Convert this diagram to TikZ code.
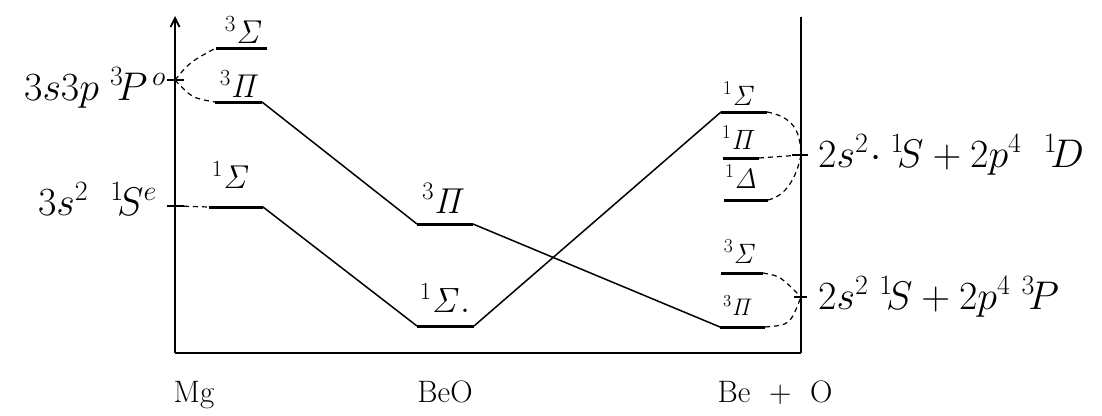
\RequirePackage{fix-cm}
\documentclass[tikz,border=0pt]{standalone}
\usetikzlibrary{arrows.meta}
\begin{document}
\begin{tikzpicture}[x=1pt,y=-1pt,
  axis/.style={line width=1.8pt},
  level/.style={line width=3pt},
  conn/.style={line width=1.5pt},
  dsh/.style={line width=1.2pt,dash pattern=on 5pt off 4pt},
  big/.style={font=\fontsize{40}{44}\selectfont,inner sep=0pt},
  lvlA/.style={font=\fontsize{33}{36}\selectfont,inner sep=0pt,anchor=base},
  lvlB/.style={font=\fontsize{28}{30}\selectfont,inner sep=0pt,anchor=base},
  bot/.style={font=\fontsize{31}{34}\selectfont,inner sep=0pt,anchor=base}]
\useasboundingbox (0,0) rectangle (1102,415);
% axes
\coordinate (ax0) at (175,353);
\coordinate (axtop) at (175,16);
\coordinate (bx1) at (801,353);
\coordinate (bxtop) at (801,17);
\draw[axis,-{Straight Barb[length=9pt,width=9pt]}] (ax0) -- (axtop);
\draw[axis] (ax0) -- (bx1);
\draw[axis] (bx1) -- (bxtop);
% ticks
\coordinate (tP) at (175,80);
\coordinate (tS) at (175,206);
\coordinate (tD) at (801,155);
\coordinate (tT) at (801,297);
\draw[axis] (167,80) -- (184,80);
\draw[axis] (167,206) -- (184,206);
\draw[axis] (792,155) -- (808,155);
\draw[axis] (794,297) -- (807,297);
% side labels
\node[big,anchor=base east] (lP) at (166,100) {$3s3p\;{}^{3}\!P^{\,o}$};
\node[big,anchor=base east] (lS) at (157,215) {$3s^{2}\;\;{}^{1}\!S^{e}$};
\node[big,anchor=base west] (lD) at (818,167) {$2s^{2}\!\cdot{}^{1}\!S+2p^{4}\;\;{}^{1}\!D$};
\node[big,anchor=base west] (lT) at (818,309) {$2s^{2}\;{}^{1}\!S+2p^{4}\;{}^{3}\!P$};
% levels: Mg
\coordinate (mgSa) at (216,48);  \coordinate (mgSb) at (267,48);
\coordinate (mgPa) at (215,102); \coordinate (mgPb) at (262,102);
\coordinate (mg1a) at (209,207); \coordinate (mg1b) at (263,207);
% BeO
\coordinate (boPa) at (417,224); \coordinate (boPb) at (473,224);
\coordinate (bo1a) at (417,326); \coordinate (bo1b) at (474,326);
% Be+O
\coordinate (b1Sa) at (721,112); \coordinate (b1Sb) at (767,112);
\coordinate (b1Pa) at (723,158); \coordinate (b1Pb) at (759,158);
\coordinate (b1Da) at (724,200); \coordinate (b1Db) at (768,200);
\coordinate (b3Sa) at (721,273); \coordinate (b3Sb) at (763,273);
\coordinate (b3Pa) at (720,327); \coordinate (b3Pb) at (765,327);
\foreach \a/\b in {mgSa/mgSb,mgPa/mgPb,mg1a/mg1b,boPa/boPb,bo1a/bo1b,b1Sa/b1Sb,b1Pa/b1Pb,b1Da/b1Db,b3Sa/b3Sb,b3Pa/b3Pb}
  \draw[level] (\a) -- (\b);
% level labels
\node[lvlA] (nmgS) at (244,43) {${}^{3}\mathit{\Sigma}$};
\node[lvlA] (nmgP) at (240,97) {${}^{3}\mathit{\Pi}$};
\node[lvlA] (nmg1) at (231,188) {${}^{1}\mathit{\Sigma}$};
\node[lvlA,font=\fontsize{36}{40}\selectfont] (nboP) at (444,213) {${}^{3}\mathit{\Pi}$};
\node[lvlA,font=\fontsize{35}{40}\selectfont] (nbo1) at (445,312) {${}^{1}\mathit{\Sigma}.$};
\node[lvlB] (nb1S) at (739,105) {${}^{1}\mathit{\Sigma}$};
\node[lvlB] (nb1P) at (739,149) {${}^{1}\mathit{\Pi}$};
\node[lvlB] (nb1D) at (741,188) {${}^{1}\mathit{\Delta}$};
\node[lvlB] (nb3S) at (740,263) {${}^{3}\mathit{\Sigma}$};
\node[lvlB,font=\fontsize{24}{28}\selectfont] (nb3P) at (738,315) {${}^{3}\mathit{\Pi}$};
% solid connectors
\draw[conn] (mgPb) -- (boPa);
\draw[conn] (boPb) -- (b3Pa);
\draw[conn] (mg1b) -- (bo1a);
\draw[conn] (bo1b) -- (b1Sa);
% dashed correlations
\draw[dsh] (tP) .. controls (190,62) .. (mgSa);
\draw[dsh] (tP) .. controls (192,98) .. (mgPa);
\draw[dsh] (tS) -- (mg1a);
\draw[dsh] (b1Sb) .. controls (800,118) and (800,140) .. (tD);
\draw[dsh] (b1Pb) -- (tD);
\draw[dsh] (b1Db) .. controls (790,195) and (798,170) .. (tD);
\draw[dsh] (b3Sb) .. controls (780,276) .. (tT);
\draw[dsh] (b3Pb) .. controls (790,325) .. (tT);
% bottom labels
\node[bot] (nMg) at (194,402) {Mg};
\node[bot] (nBeO) at (445,402) {BeO};
\node[bot] (nBeO2) at (775,402) {Be \ + \ O};
\end{tikzpicture}
\end{document}
